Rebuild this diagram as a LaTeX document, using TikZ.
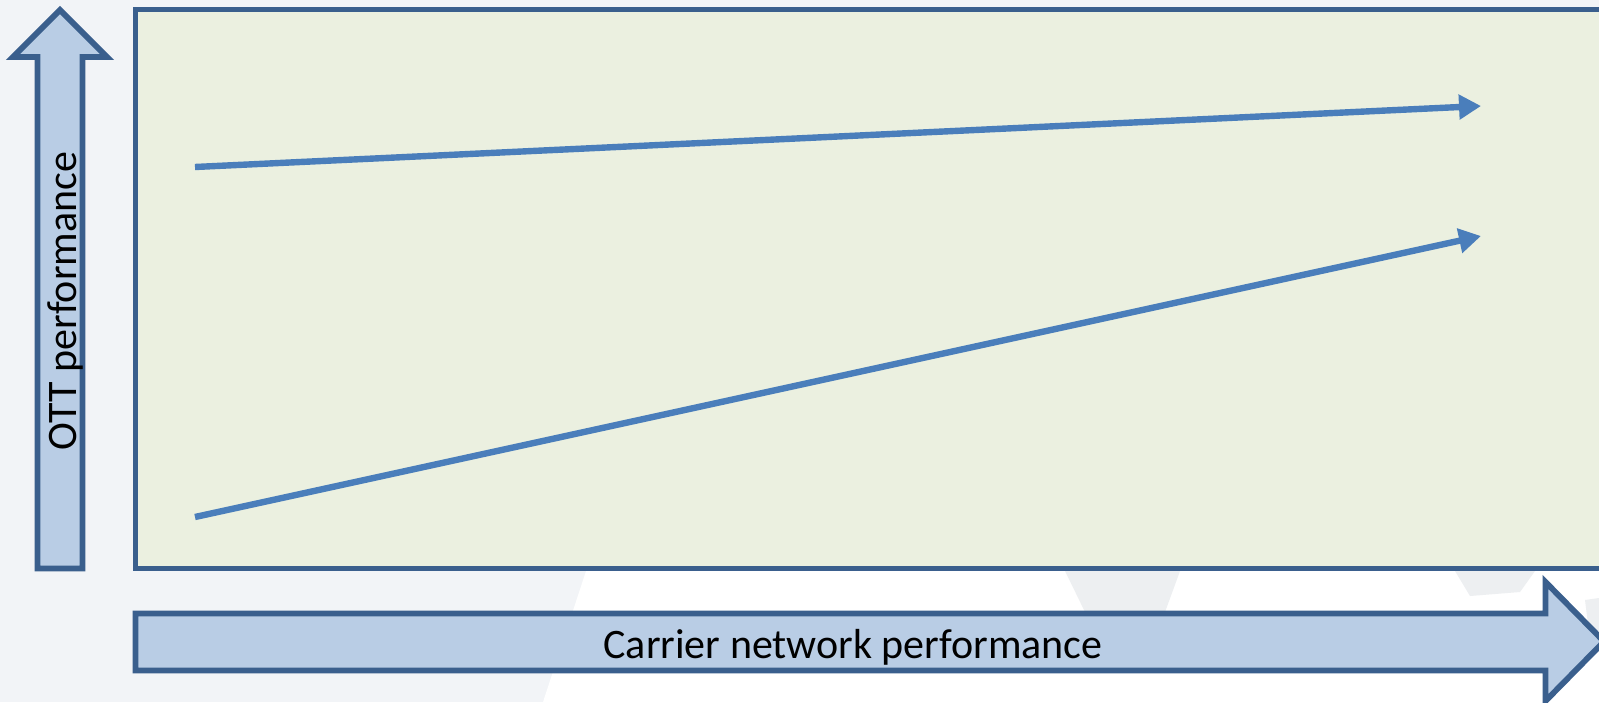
\documentclass[tikz,border=0pt]{standalone}
\usepackage{fontspec}
\setmainfont{Carlito}
\usetikzlibrary{arrows.meta}
\definecolor{bggray}{HTML}{F2F4F7}
\definecolor{blob}{HTML}{EDEFF1}
\definecolor{panel}{HTML}{EBF0E0}
\definecolor{edge}{HTML}{3A5F8D}
\definecolor{axisfill}{HTML}{B9CDE5}
\definecolor{trend}{HTML}{4A7EBB}
\tikzset{
  axisarrow/.style={draw=edge, fill=axisfill, line width=2.9pt, line join=miter},
  panelbox/.style={draw=edge, fill=panel, line width=2.9pt},
  trendline/.style={draw=trend, line width=3.2pt, -{Triangle[length=11pt,width=12pt]}},
  label/.style={font=\fontsize{21}{25}\selectfont, text=black, inner sep=0pt}
}
\begin{document}
\begin{tikzpicture}[x=0.5pt,y=-0.5pt]
\useasboundingbox (0,0) rectangle (1599,702);
\fill[bggray] (0,0) rectangle (1599,702);
\fill[white] (586,571) -- (543,702) -- (1599,702) -- (1599,571) -- cycle;
\fill[blob] (1065,571) -- (1180,571) -- (1165,612) -- (1085,612) -- cycle;
\fill[blob] (1455,571) -- (1535,571) -- (1520,592) -- (1470,596) -- cycle;
\fill[blob] (1585,600) -- (1599,598) -- (1599,640) -- (1590,640) -- cycle;
% main panel
\draw[panelbox] (135.5,9.5) rectangle (1612,568.5);
% vertical axis arrow
\draw[axisarrow] (60,10) -- (107,57) -- (82.5,57) -- (82.5,568.5) -- (37.5,568.5) -- (37.5,57) -- (13,57) -- cycle;
\node[label, rotate=90] (ott) at (65,301) {OTT performance};
% horizontal axis arrow
\draw[axisarrow] (135.5,613.5) -- (1545.5,613.5) -- (1545.5,582) -- (1604,641.5) -- (1545.5,701) -- (1545.5,670.5) -- (135.5,670.5) -- cycle;
\node[label] (cnp) at (853,647) {Carrier network performance};
% trend lines
\coordinate (a1) at (195,167);
\coordinate (a2) at (1481,106);
\coordinate (b1) at (195,517);
\coordinate (b2) at (1481,236);
\draw[trendline] (a1) -- (a2);
\draw[trendline] (b1) -- (b2);
\end{tikzpicture}
\end{document}
